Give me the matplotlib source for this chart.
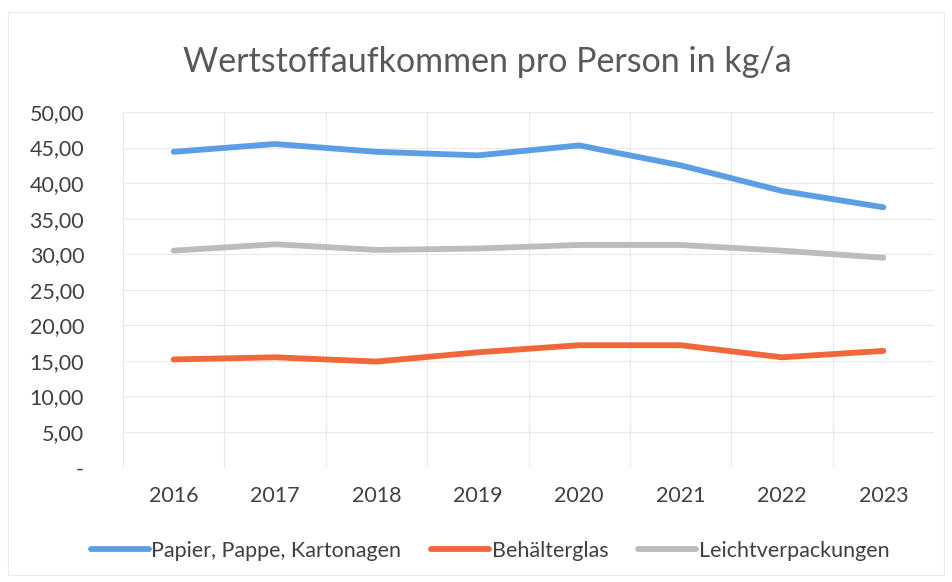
import matplotlib
matplotlib.use("Agg")
import matplotlib.pyplot as plt
from matplotlib.patches import Rectangle

years = ["2016", "2017", "2018", "2019", "2020", "2021", "2022", "2023"]
papier = [44.4, 45.5, 44.4, 43.9, 45.3, 42.5, 38.9, 36.6]
glas = [15.2, 15.5, 14.9, 16.2, 17.2, 17.2, 15.5, 16.4]
lvp = [30.5, 31.4, 30.6, 30.8, 31.3, 31.3, 30.5, 29.5]
yticks = [0, 5, 10, 15, 20, 25, 30, 35, 40, 45, 50]

series_names = ["Papier, Pappe, Kartonagen", "Behälterglas", "Leichtverpackungen"]
colors = ["#5C9EE6", "#F0683A", "#BCBCC0"]

plt.rcParams['font.family'] = ['Lato', 'DejaVu Sans']

fig = plt.figure(figsize=(9.52, 5.82), dpi=100)
fig.patches.append(Rectangle((8/952, 7/582), 1 - 16/952, 1 - 19/582, transform=fig.transFigure,
                             fill=False, edgecolor="#EBEBEB", linewidth=0.8))

ax = fig.add_axes([123/952, 1 - 467.5/582, (934 - 123)/952, (467.5 - 112)/582])
x = list(range(len(years)))
for vals, name, c in zip([papier, glas, lvp], series_names, colors):
    ax.plot(x, vals, color=c, lw=4.2, label=name, solid_capstyle="round", solid_joinstyle="round")

ax.set_xlim(-0.5, len(years) - 0.5)
ax.set_ylim(0, 50)
ax.set_yticks(yticks)
ax.set_yticklabels(["-" if v == 0 else f"{v:.2f}".replace(".", ",") for v in yticks])
ax.set_xticks(x)
ax.set_xticklabels(years)
ax.set_xticks([i + 0.5 for i in range(-1, len(years))], minor=True)
ax.grid(True, axis="y", which="major", color="#E8E8EC", lw=0.8)
ax.grid(True, axis="x", which="minor", color="#E8E8EC", lw=0.8)
ax.tick_params(axis="both", which="both", length=0, colors="#404040", labelsize=15.5)
ax.tick_params(axis="y", pad=28)
ax.tick_params(axis="x", pad=13)
for lbl in ax.get_yticklabels():
    lbl.set_horizontalalignment("right")
for s in ax.spines.values():
    s.set_visible(False)
ax.set_axisbelow(True)

fig.text(487/952, 1 - 62/582, "Wertstoffaufkommen pro Person in kg/a", ha="center", va="center",
         fontsize=24.5, color="#595959")

leg = fig.legend(loc="center", bbox_to_anchor=(490/952, 1 - 551/582), ncol=3, frameon=False,
                 fontsize=15.5, handlelength=2.7, handletextpad=0.1, columnspacing=1.4)
for t in leg.get_texts():
    t.set_color("#404040")

fig.savefig("out.png", dpi=100)
